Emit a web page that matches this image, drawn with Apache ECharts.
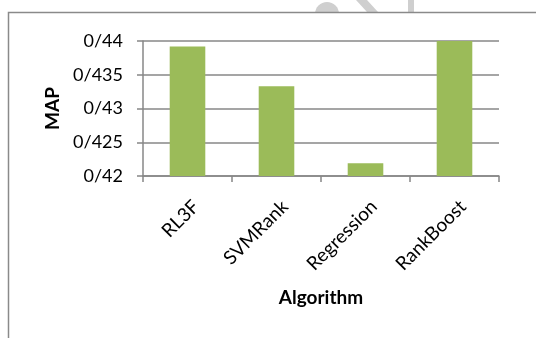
<!DOCTYPE html>
<html>
<head>
<meta charset="utf-8">
<script src="https://cdn.jsdelivr.net/npm/echarts@6/dist/echarts.min.js"></script>
<style>
  html, body { margin: 0; padding: 0; background: #fff; }
  #chart { width: 536px; height: 338px; }
</style>
</head>
<body>
<div id="chart"></div>
<script>
// MAP score per ranking algorithm
const algorithms = ['RL3F', 'SVMRank', 'Regression', 'RankBoost'];
const mapScores = [0.4392, 0.4333, 0.4219, 0.4400];
const yTicks = [0.42, 0.425, 0.43, 0.435, 0.44];

// Decimal point written as "/" (e.g. 0/435)
function fmt(v) {
  const s = String(+v.toFixed(3));
  return s.replace('.', '/');
}

const chart = echarts.init(document.getElementById('chart'), null, { renderer: 'canvas' });
const gray = '#878787';
const font = 'Lato, "Open Sans", sans-serif';

chart.setOption({
  animation: false,
  graphic: [
    // faint page mark above the chart frame
    {
      type: 'group',
      silent: true,
      children: [
        { type: 'circle', shape: { cx: 327, cy: 14, r: 12 }, style: { fill: '#cfcfcf' } },
        { type: 'polygon', shape: { points: [[356, 0], [367, 0], [378, 12], [367, 12]] }, style: { fill: '#cfcfcf' } },
        { type: 'rect', shape: { x: 408, y: 0, width: 6, height: 12 }, style: { fill: '#cfcfcf' } }
      ]
    },
    {
      type: 'rect',
      silent: true,
      shape: { x: 9, y: 13, width: 540, height: 340 },
      style: { fill: '#fff' }
    },
    {
      type: 'polyline',
      shape: { points: [[8.5, 340], [8.5, 12.5], [540, 12.5]] },
      style: { stroke: '#8a8a8a', lineWidth: 1.5, fill: null },
      silent: true
    }
  ],
  grid: { left: 143, right: 37, top: 41, bottom: 162 },
  xAxis: {
    type: 'category',
    data: algorithms,
    name: 'Algorithm',
    nameLocation: 'middle',
    nameGap: 112,
    nameTextStyle: { fontFamily: font, fontSize: 19, fontWeight: 'bold', color: '#000' },
    axisLine: { show: true, lineStyle: { color: gray, width: 1.5 } },
    axisTick: { show: true, length: 6, alignWithLabel: false, lineStyle: { color: gray, width: 1.5 } },
    axisLabel: {
      rotate: 45, margin: 19, fontFamily: font, fontSize: 19, color: '#000',
      verticalAlign: 'top', lineHeight: 24
    }
  },
  yAxis: {
    type: 'value',
    min: yTicks[0],
    max: yTicks[yTicks.length - 1],
    interval: 0.005,
    name: 'MAP',
    nameLocation: 'middle',
    nameRotate: 90,
    nameGap: 80,
    nameTextStyle: { fontFamily: font, fontSize: 19, fontWeight: 'bold', color: '#000' },
    axisLine: { show: true, lineStyle: { color: gray, width: 1.5 } },
    axisTick: { show: true, length: 6, lineStyle: { color: gray, width: 1.5 } },
    axisLabel: { margin: 20, fontFamily: font, fontSize: 18, color: '#000', formatter: fmt },
    splitLine: { show: true, lineStyle: { color: gray, width: 1.5 } }
  },
  series: [
    {
      type: 'bar',
      data: mapScores,
      barCategoryGap: '60%',
      itemStyle: { color: '#9bbb59' }
    }
  ]
});
</script>
</body>
</html>
